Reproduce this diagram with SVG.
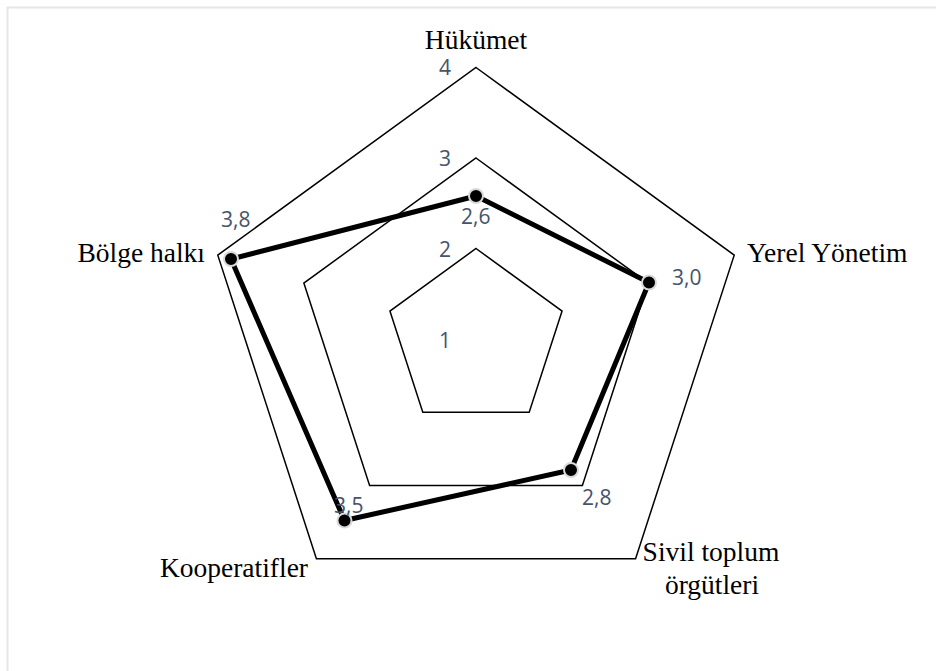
<svg xmlns="http://www.w3.org/2000/svg" width="936" height="671" viewBox="0 0 936 671">
<style>
.grid{fill:none;stroke:#000;stroke-width:1.5;stroke-linejoin:miter}
.cat{font-family:"Liberation Serif","Times New Roman",serif;font-size:27.5px;fill:#000}
.val{font-family:"Open Sans","Liberation Sans",Arial,sans-serif;font-size:21px;fill:#44546A}
.series{fill:none;stroke:#000;stroke-width:5;stroke-linejoin:round}
.pt{fill:#000;stroke:#D9D9D9;stroke-width:2}
</style>
<rect x="0" y="0" width="936" height="671" fill="#fff"/>
<path d="M7.5,671 V7.5 H936" fill="none" stroke="#E3E6EA" stroke-width="2"/>
<g id="grid">
<polygon class="grid" points="476,248.5 562.07,311.03 529.2,412.21 422.8,412.21 389.93,311.03"/>
<polygon class="grid" points="476,158 648.15,283.07 582.39,485.43 369.61,485.43 303.85,283.07"/>
<polygon class="grid" points="476,67.5 734.22,255.11 635.59,558.64 316.41,558.64 217.78,255.11"/>
</g>
<g id="axis-values">
<text class="val" x="439" y="348">1</text>
<text class="val" x="439" y="257">2</text>
<text class="val" x="439" y="166">3</text>
<text class="val" x="439" y="75">4</text>
</g>
<g id="connectors">
<polygon class="series" points="476,196 649,282.5 571,470 344.5,520.5 231,259"/>
</g>
<g id="node-hukumet">
<circle class="pt" cx="476" cy="196" r="7"/>
<text class="val" x="461" y="224">2,6</text>
<text class="cat" x="476" y="49" text-anchor="middle">Hükümet</text>
</g>
<g id="node-yerel">
<circle class="pt" cx="649" cy="282.5" r="7"/>
<text class="val" x="672" y="285">3,0</text>
<text class="cat" x="747" y="262">Yerel Yönetim</text>
</g>
<g id="node-sivil">
<circle class="pt" cx="571" cy="470" r="7"/>
<text class="val" x="582" y="505">2,8</text>
<text class="cat" x="711" y="561" text-anchor="middle">Sivil toplum</text>
<text class="cat" x="712" y="594" text-anchor="middle">örgütleri</text>
</g>
<g id="node-kooperatifler">
<circle class="pt" cx="344.5" cy="520.5" r="7"/>
<text class="val" x="334" y="513">3,5</text>
<text class="cat" x="308" y="577" text-anchor="end">Kooperatifler</text>
</g>
<g id="node-bolge">
<circle class="pt" cx="231" cy="259" r="7"/>
<text class="val" x="221" y="227">3,8</text>
<text class="cat" x="205" y="262" text-anchor="end">Bölge halkı</text>
</g>
</svg>
